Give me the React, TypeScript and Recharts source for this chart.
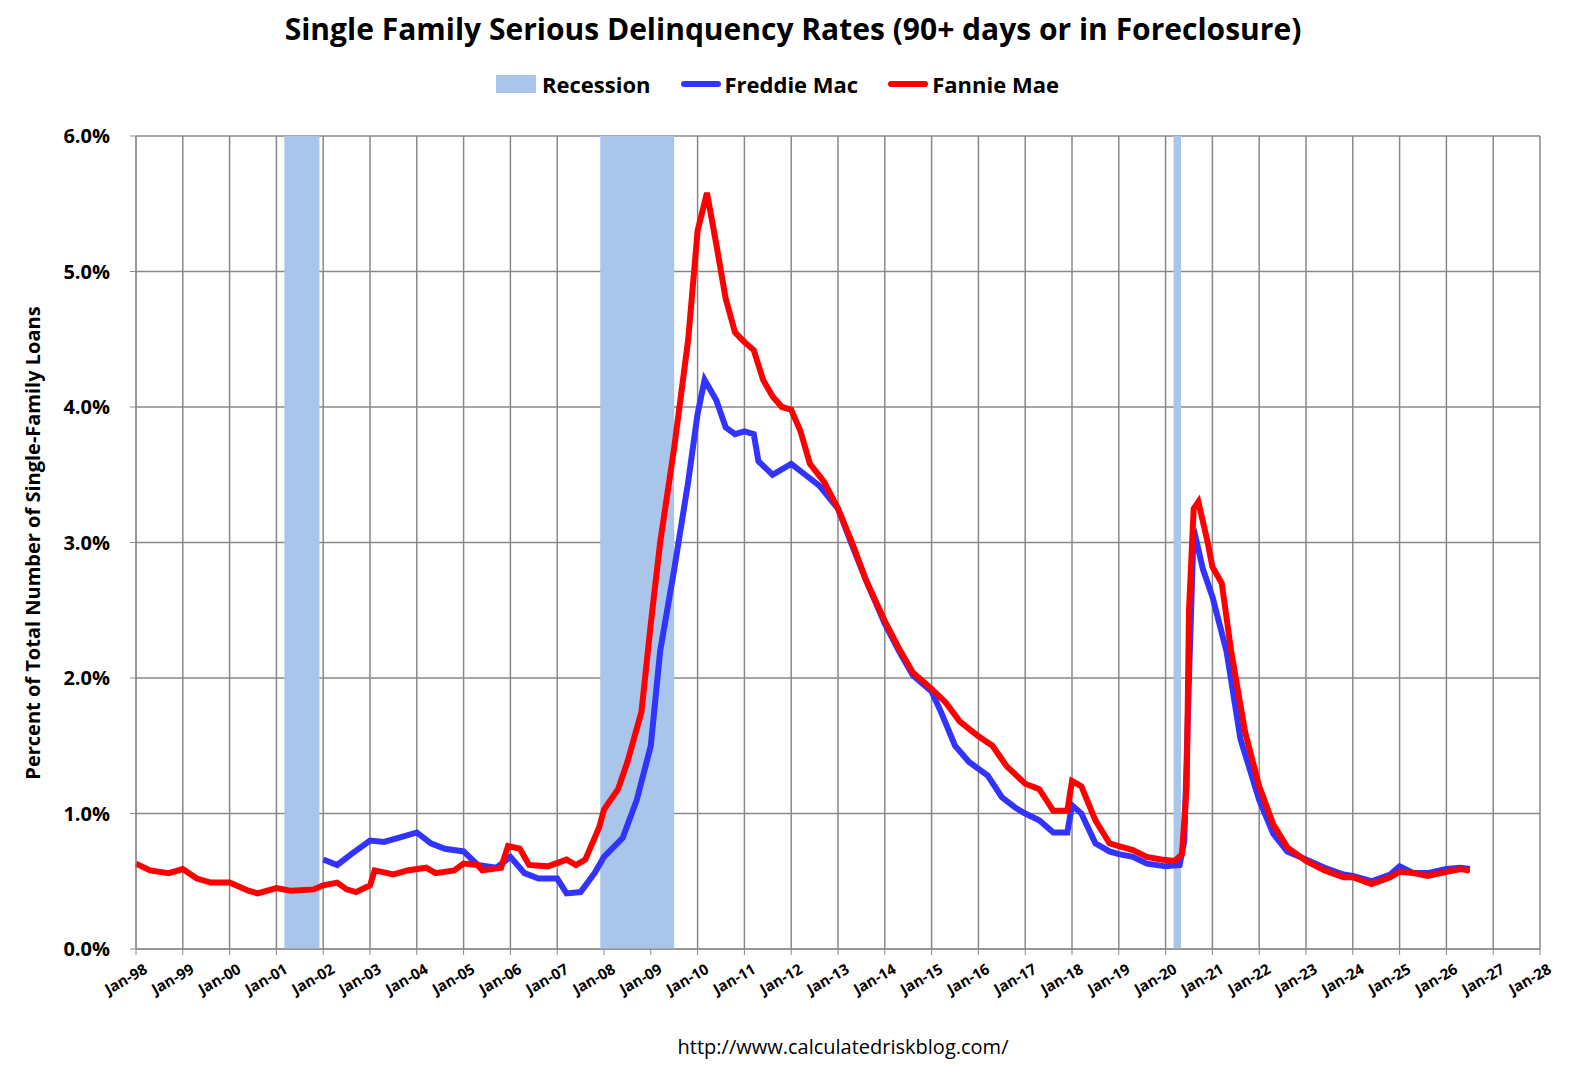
import React from "react";
import { LineChart, Line, XAxis, YAxis, CartesianGrid, ReferenceArea } from "recharts";

const fannieX = [1998.0,1998.3,1998.7,1999.0,1999.3,1999.6,2000.0,2000.4,2000.6,2001.0,2001.3,2001.8,2002.0,2002.3,2002.5,2002.7,2003.0,2003.1,2003.5,2003.8,2004.2,2004.4,2004.8,2005.0,2005.3,2005.4,2005.8,2005.95,2006.2,2006.4,2006.8,2007.2,2007.4,2007.6,2007.9,2008.0,2008.3,2008.5,2008.8,2009.0,2009.2,2009.5,2009.8,2010.0,2010.2,2010.4,2010.6,2010.8,2011.0,2011.2,2011.4,2011.6,2011.8,2012.0,2012.2,2012.4,2012.7,2013.0,2013.3,2013.6,2014.0,2014.3,2014.6,2015.0,2015.3,2015.6,2016.0,2016.3,2016.6,2017.0,2017.3,2017.6,2017.9,2018.0,2018.2,2018.5,2018.8,2019.0,2019.3,2019.6,2019.9,2020.2,2020.35,2020.45,2020.5,2020.6,2020.7,2020.9,2021.0,2021.2,2021.4,2021.7,2022.0,2022.3,2022.6,2023.0,2023.4,2023.8,2024.0,2024.4,2024.8,2025.0,2025.3,2025.6,2026.0,2026.3,2026.5];
const fannieY = [0.63,0.58,0.56,0.59,0.52,0.49,0.49,0.43,0.41,0.45,0.43,0.44,0.47,0.49,0.44,0.42,0.47,0.58,0.55,0.58,0.60,0.56,0.58,0.63,0.62,0.58,0.60,0.76,0.74,0.62,0.61,0.66,0.62,0.66,0.9,1.03,1.18,1.38,1.75,2.4,3.0,3.7,4.5,5.3,5.58,5.2,4.8,4.55,4.48,4.42,4.2,4.08,4.0,3.98,3.82,3.58,3.45,3.25,3.0,2.72,2.42,2.22,2.04,1.92,1.82,1.68,1.57,1.5,1.35,1.22,1.18,1.02,1.02,1.24,1.20,0.95,0.78,0.76,0.73,0.68,0.66,0.65,0.70,1.2,2.5,3.25,3.3,3.0,2.82,2.7,2.2,1.6,1.2,0.92,0.75,0.65,0.58,0.53,0.53,0.48,0.53,0.57,0.56,0.54,0.57,0.59,0.58];
const freddieX = [2002.0,2002.3,2002.6,2003.0,2003.3,2003.7,2004.0,2004.3,2004.6,2005.0,2005.3,2005.7,2006.0,2006.3,2006.6,2007.0,2007.2,2007.5,2007.8,2008.0,2008.4,2008.7,2009.0,2009.2,2009.5,2009.8,2010.0,2010.15,2010.4,2010.6,2010.8,2011.0,2011.2,2011.3,2011.6,2012.0,2012.3,2012.6,2013.0,2013.3,2013.6,2014.0,2014.3,2014.6,2015.0,2015.2,2015.5,2015.8,2016.2,2016.5,2016.8,2017.0,2017.3,2017.6,2017.9,2018.0,2018.2,2018.5,2018.8,2019.0,2019.3,2019.6,2020.0,2020.3,2020.4,2020.5,2020.6,2020.8,2021.0,2021.3,2021.6,2022.0,2022.3,2022.6,2023.0,2023.4,2023.8,2024.0,2024.4,2024.8,2025.0,2025.3,2025.6,2026.0,2026.3,2026.5];
const freddieY = [0.66,0.62,0.7,0.8,0.79,0.83,0.86,0.78,0.74,0.72,0.62,0.60,0.68,0.56,0.52,0.52,0.41,0.42,0.56,0.68,0.82,1.1,1.5,2.2,2.8,3.45,3.95,4.2,4.05,3.85,3.8,3.82,3.8,3.6,3.5,3.58,3.5,3.42,3.25,2.98,2.72,2.4,2.2,2.02,1.9,1.75,1.5,1.38,1.28,1.12,1.04,1.0,0.95,0.86,0.86,1.06,1.0,0.78,0.72,0.70,0.68,0.63,0.61,0.62,0.80,2.0,3.1,2.8,2.6,2.2,1.55,1.1,0.85,0.72,0.66,0.60,0.55,0.54,0.50,0.55,0.61,0.56,0.56,0.59,0.60,0.59];
const recessions = [[2001.17, 2001.92], [2007.92, 2009.5], [2020.17, 2020.33]];
const yearTicks = Array.from({ length: 31 }, (_, i) => 1998 + i);
const yTicks = [0, 1, 2, 3, 4, 5, 6];

const fannie = fannieX.map((x, i) => ({ x, v: fannieY[i] }));
const freddie = freddieX.map((x, i) => ({ x, v: freddieY[i] }));

const font = "'Open Sans', 'Liberation Sans', sans-serif";

const XTick = (p: any) => (
  <text x={p.x + 6} y={p.y + 4} transform={`rotate(-30 ${p.x + 6} ${p.y + 4})`} textAnchor="end" dominantBaseline="hanging"
    fontSize={15} fontWeight={700} fill="#000" fontFamily={font}>
    {"Jan-" + String(p.payload.value % 100).padStart(2, "0")}
  </text>
);

export default function App() {
  return (
    <div style={{ position: "relative", width: 1564, height: 1058, fontFamily: font }}>
      <div style={{ position: "absolute", top: 0, left: 0, width: 1570, textAlign: "center", fontSize: 30, fontWeight: 700 }}>
        Single Family Serious Delinquency Rates (90+ days or in Foreclosure)
      </div>
      <div style={{ position: "absolute", top: 61, left: 488, display: "flex", alignItems: "center", fontSize: 22, fontWeight: 700 }}>
        <span style={{ width: 40, height: 18, background: "#a9c6ea", marginRight: 6 }} />
        <span style={{ marginRight: 30 }}>Recession</span>
        <span style={{ width: 40, height: 6, background: "#3333ff", borderRadius: 3, marginRight: 4 }} />
        <span style={{ marginRight: 30 }}>Freddie Mac</span>
        <span style={{ width: 40, height: 6, background: "#ff0000", borderRadius: 3, marginRight: 4 }} />
        <span>Fannie Mae</span>
      </div>
      <div style={{ position: "absolute", left: 24, top: 535, transform: "translate(-50%,-50%) rotate(-90deg)", whiteSpace: "nowrap", fontSize: 20, fontWeight: 700 }}>
        Percent of Total Number of Single-Family Loans
      </div>
      <div style={{ position: "absolute", top: 1025, left: 0, width: 1670, textAlign: "center", fontSize: 20 }}>
        http://www.calculatedriskblog.com/
      </div>
      <div style={{ position: "absolute", top: 0, left: 0 }}>
        <LineChart width={1564} height={1060} margin={{ top: 128, right: 32, left: 48, bottom: 69 }}>
          <CartesianGrid stroke="#888" strokeWidth={1.5} verticalValues={yearTicks} horizontalValues={yTicks} />
          {recessions.map(([a, b], i) => (
            <ReferenceArea key={i} x1={a} x2={b} fill="#a9c6ea" fillOpacity={1} stroke="none" ifOverflow="visible" />
          ))}
          <XAxis type="number" dataKey="x" domain={[1998, 2028]} ticks={yearTicks} allowDuplicatedCategory={false}
            tick={<XTick />} height={50} stroke="#888" interval={0} tickLine={{ stroke: "#888" }} />
          <YAxis type="number" domain={[0, 6]} ticks={yTicks} width={80} stroke="#888" interval={0} tickMargin={20}
            tickFormatter={(v: number) => v.toFixed(1) + "%"}
            tick={{ fontSize: 20, fontWeight: 700, fill: "#000", fontFamily: font }} />
          <Line data={freddie} dataKey="v" type="linear" stroke="#3333ff" strokeWidth={6} dot={false} isAnimationActive={false} />
          <Line data={fannie} dataKey="v" type="linear" stroke="#ff0000" strokeWidth={6} dot={false} isAnimationActive={false} />
        </LineChart>
      </div>
    </div>
  );
}
